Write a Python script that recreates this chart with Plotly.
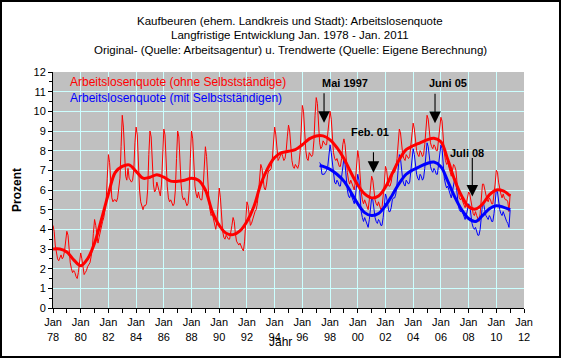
import plotly.graph_objects as go
import pandas as pd

# Arbeitslosenquote (ohne Selbstständige), monthly Jan 1978 - Jan 2011
quote_ohne = [
    4.2, 3.9, 3.2, 2.7, 2.5, 2.4, 2.6, 2.7, 2.5, 2.6, 2.9, 3.5,   # 1978
    3.9, 3.7, 2.9, 2.3, 2.0, 1.8, 1.9, 1.8, 1.6, 1.5, 1.8, 2.3,   # 1979
    2.8, 2.5, 2.0, 1.7, 1.8, 1.9, 2.1, 2.2, 2.3, 2.6, 3.0, 3.8,   # 1980
    4.5, 4.2, 3.6, 3.3, 3.6, 3.9, 4.2, 4.4, 4.6, 4.9, 5.4, 6.6,   # 1981
    7.8, 7.4, 6.3, 5.6, 5.4, 5.5, 5.5, 5.4, 5.6, 6.0, 6.6, 8.2,   # 1982
    9.8, 9.2, 7.6, 6.7, 6.5, 7.1, 6.6, 6.5, 6.4, 6.5, 7.0, 8.4,   # 1983
    9.2, 8.8, 7.2, 6.0, 5.4, 5.1, 5.0, 5.2, 5.2, 5.3, 6.0, 7.8,   # 1984
    9.0, 8.7, 7.4, 6.3, 5.9, 6.0, 6.4, 6.1, 5.8, 5.7, 6.3, 7.9,   # 1985
    9.1, 8.8, 7.2, 6.2, 5.6, 5.4, 5.5, 5.3, 5.2, 5.3, 6.0, 7.6,   # 1986
    9.0, 8.7, 7.3, 6.3, 5.7, 5.5, 5.6, 5.4, 5.2, 5.3, 6.0, 7.6,   # 1987
    9.0, 8.6, 7.2, 6.2, 5.8, 5.6, 5.9, 5.6, 5.5, 5.5, 6.1, 7.3,   # 1988
    8.2, 7.7, 6.4, 5.6, 5.0, 4.7, 4.8, 4.5, 4.2, 4.0, 4.4, 5.4,   # 1989
    6.1, 5.6, 4.6, 3.9, 3.6, 3.5, 3.7, 3.6, 3.5, 3.5, 3.8, 4.2,   # 1990
    4.6, 4.4, 3.8, 3.4, 3.3, 3.2, 3.3, 3.1, 3.0, 2.9, 3.4, 4.4,   # 1991
    5.4, 5.2, 4.6, 4.2, 4.3, 4.5, 4.8, 4.9, 5.0, 5.3, 5.9, 6.6,   # 1992
    7.3, 7.1, 6.5, 6.1, 6.0, 6.3, 6.8, 7.0, 7.0, 7.1, 7.6, 8.4,   # 1993
    9.2, 8.8, 8.0, 7.5, 7.6, 7.8, 7.9, 7.7, 7.5, 7.6, 8.0, 8.7,   # 1994
    9.3, 9.0, 8.2, 7.5, 7.2, 7.1, 7.3, 7.2, 7.1, 7.3, 7.9, 9.0,   # 1995
    10.3, 10.0, 9.0, 8.0, 7.6, 7.5, 7.9, 7.8, 7.7, 7.8, 8.5, 9.8, # 1996
    10.7, 10.4, 9.4, 8.4, 8.1, 8.2, 8.5, 8.4, 8.3, 8.3, 8.9, 9.6, # 1997
    10.0, 9.6, 8.6, 7.9, 7.6, 7.5, 7.6, 7.4, 7.2, 7.2, 7.6, 8.3,  # 1998
    8.6, 8.3, 7.5, 6.9, 6.5, 6.3, 6.5, 6.3, 6.1, 6.0, 6.5, 7.3,   # 1999
    8.0, 7.6, 6.6, 5.9, 5.5, 5.3, 5.5, 5.3, 5.1, 5.0, 5.5, 6.2,   # 2000
    6.7, 6.5, 6.0, 5.5, 5.3, 5.2, 5.4, 5.2, 5.0, 5.1, 5.6, 6.3,   # 2001
    7.2, 7.0, 6.5, 6.2, 6.2, 6.4, 6.8, 6.9, 6.9, 7.1, 7.6, 8.4,   # 2002
    9.1, 8.9, 8.3, 7.8, 7.6, 7.5, 7.8, 7.7, 7.6, 7.7, 8.2, 8.8,   # 2003
    9.4, 9.1, 8.5, 8.0, 7.8, 7.7, 8.0, 7.9, 7.7, 7.8, 8.3, 9.0,   # 2004
    9.8, 9.6, 9.0, 8.4, 8.2, 8.1, 8.3, 8.2, 8.0, 8.0, 8.6, 9.3,   # 2005
    9.7, 9.5, 8.6, 7.9, 7.5, 7.3, 7.4, 7.1, 6.8, 6.7, 7.0, 7.3,   # 2006
    7.2, 7.0, 6.4, 5.9, 5.6, 5.5, 5.6, 5.4, 5.2, 5.1, 5.3, 5.6,   # 2007
    5.9, 5.8, 5.4, 5.0, 4.8, 4.7, 4.9, 4.7, 4.5, 4.4, 4.8, 5.4,   # 2008
    6.3, 6.3, 6.0, 5.7, 5.5, 5.4, 5.6, 5.5, 5.3, 5.3, 5.7, 6.3,   # 2009
    7.0, 6.9, 6.4, 6.0, 5.8, 5.6, 5.8, 5.6, 5.5, 5.5, 5.4, 4.9,   # 2010
    5.8,                                                          # 2011
]

# Arbeitslosenquote (mit Selbstständigen), monthly Apr 1997 - Jan 2011
quote_mit = [
    7.4, 7.3, 6.8, 6.8, 6.8, 6.9, 7.0, 7.2, 7.8,                  # 1997 (Apr-Dec)
    8.3, 7.9, 7.3, 6.7, 6.4, 6.3, 6.5, 6.4, 6.2, 6.2, 6.6, 7.2,   # 1998
    7.6, 7.3, 6.6, 6.0, 5.7, 5.6, 5.8, 5.6, 5.4, 5.3, 5.7, 6.3,   # 1999
    6.8, 6.5, 5.6, 4.9, 4.6, 4.4, 4.6, 4.4, 4.2, 4.1, 4.5, 5.1,   # 2000
    5.6, 5.5, 5.0, 4.6, 4.4, 4.3, 4.5, 4.4, 4.2, 4.2, 4.6, 5.2,   # 2001
    5.8, 5.6, 5.2, 4.9, 4.9, 5.1, 5.5, 5.6, 5.6, 5.8, 6.3, 7.0,   # 2002
    7.8, 7.6, 7.0, 6.5, 6.3, 6.2, 6.5, 6.4, 6.3, 6.4, 6.9, 7.5,   # 2003
    8.1, 7.8, 7.2, 6.8, 6.6, 6.5, 6.8, 6.7, 6.5, 6.6, 7.1, 7.7,   # 2004
    8.4, 8.2, 7.6, 7.2, 7.0, 6.9, 7.1, 7.0, 6.8, 6.8, 7.3, 7.9,   # 2005
    8.3, 8.1, 7.3, 6.6, 6.3, 6.1, 6.2, 6.0, 5.7, 5.6, 5.9, 6.2,   # 2006
    6.6, 6.4, 5.8, 5.3, 5.0, 4.9, 5.0, 4.8, 4.6, 4.5, 4.7, 5.0,   # 2007
    5.3, 5.2, 4.7, 4.3, 4.1, 4.0, 4.1, 3.9, 3.7, 3.7, 4.0, 4.6,   # 2008
    5.3, 5.3, 5.0, 4.7, 4.6, 4.5, 4.7, 4.6, 4.4, 4.4, 4.8, 5.4,   # 2009
    6.0, 5.9, 5.4, 5.0, 4.8, 4.7, 4.9, 4.7, 4.5, 4.4, 4.3, 4.1,   # 2010
    5.0,                                                          # 2011
]

# Trend values (half-yearly: Jan / Jul)
trend_ohne = [
    3.0, 3.0, 2.85, 2.45, 2.15, 2.5, 3.3, 4.5, 5.8, 6.9,          # 1978-1982.5
    7.2, 7.28, 6.95, 6.6, 6.65, 6.78, 6.65, 6.45, 6.44, 6.5,      # 1983-1987.5
    6.6, 6.5, 6.0, 4.9, 4.2, 3.8, 3.73, 3.92, 4.4, 5.15,          # 1988-1992.5
    6.3, 7.1, 7.65, 7.9, 7.97, 8.05, 8.3, 8.6, 8.75, 8.75,        # 1993-1997.5
    8.55, 8.15, 7.6, 6.9, 6.25, 5.8, 5.6, 5.7, 6.15, 6.85,        # 1998-2002.5
    7.55, 8.05, 8.25, 8.4, 8.55, 8.63, 8.45, 7.55, 6.5, 5.7,      # 2003-2007.5
    5.15, 5.03, 5.28, 5.75, 6.0, 5.95, 5.7,                       # 2008-2011
]
trend_mit = [
    7.25,                                                         # Apr 1997
    7.2, 7.05, 6.8, 6.45, 5.9, 5.3, 4.85, 4.7, 4.8, 5.2,          # 1997.5-2002.0
    5.75, 6.35, 6.8, 7.03, 7.2, 7.35, 7.42, 7.18, 6.45, 5.65,     # 2002.5-2007.0
    5.0, 4.55, 4.4, 4.7, 5.05, 5.2, 5.13, 5.0,                    # 2007.5-2011
]

tick_years = list(range(1978, 2013, 2))
tick_labels = ["Jan<br>%02d" % (y % 100) for y in tick_years]

title_lines = [
    "Kaufbeuren (ehem. Landkreis und Stadt): Arbeitslosenquote",
    "Langfristige Entwicklung Jan. 1978 - Jan. 2011",
    "Original- (Quelle: Arbeitsagentur) u. Trendwerte (Quelle: Eigene Berechnung)",
]
name_ohne = "Arbeitslosenquote (ohne Selbstständige)"
name_mit = "Arbeitslosenquote (mit Selbstständigen)"

months_ohne = pd.date_range("1978-01-01", periods=len(quote_ohne), freq="MS")
months_mit = pd.date_range("1997-04-01", periods=len(quote_mit), freq="MS")
trend_ohne_x = pd.date_range("1978-01-01", periods=len(trend_ohne), freq="6MS")
trend_mit_x = [pd.Timestamp("1997-04-01")] + list(
    pd.date_range("1997-07-01", periods=len(trend_mit) - 1, freq="6MS"))

RED = "#FF0000"
BLUE = "#0000FF"
FONT = "Arial, Liberation Sans, sans-serif"

fig = go.Figure()
fig.add_trace(go.Scatter(x=months_ohne, y=quote_ohne, mode="lines",
                         line=dict(color=RED, width=1), name=name_ohne))
fig.add_trace(go.Scatter(x=months_mit, y=quote_mit, mode="lines",
                         line=dict(color=BLUE, width=1), name=name_mit))
fig.add_trace(go.Scatter(x=trend_ohne_x, y=trend_ohne, mode="lines",
                         line=dict(color=RED, width=3, shape="spline"),
                         name="Trend ohne"))
fig.add_trace(go.Scatter(x=trend_mit_x, y=trend_mit, mode="lines",
                         line=dict(color=BLUE, width=3, shape="spline"),
                         name="Trend mit"))

W, H = 561, 358
ml, mr, mt, mb = 53, 37, 72, 50
pw, ph = W - ml - mr, H - mt - mb


def px(xp):
    return (xp - ml) / pw


def py(yp):
    return (H - mb - yp) / ph


annotations = []
for i, line in enumerate(title_lines):
    annotations.append(dict(text=line, xref="paper", yref="paper",
                            x=px(290), y=py(20.5 + 14.8 * i), showarrow=False,
                            xanchor="center", yanchor="middle",
                            font=dict(size=11.5, color="black", family=FONT)))
annotations.append(dict(text=name_ohne, xref="paper", yref="paper",
                        x=px(68), y=py(82), showarrow=False, xanchor="left",
                        yanchor="middle", font=dict(size=12, color=RED, family=FONT)))
annotations.append(dict(text=name_mit, xref="paper", yref="paper",
                        x=px(68), y=py(98), showarrow=False, xanchor="left",
                        yanchor="middle", font=dict(size=12, color=BLUE, family=FONT)))
annotations.append(dict(text="<b>Prozent</b>", xref="paper", yref="paper",
                        x=px(17), y=py(190), showarrow=False, textangle=-90,
                        xanchor="center", yanchor="middle",
                        font=dict(size=12, color="black", family=FONT)))
annotations.append(dict(text="Jahr", xref="paper", yref="paper",
                        x=px(280), y=py(342), showarrow=False,
                        xanchor="center", yanchor="middle",
                        font=dict(size=12, color="black", family=FONT)))

events = [
    ("Mai 1997", "1999-01-30", 11.44, "1997-07-26", 9.42, -31),
    ("Feb. 01", "2000-11-20", 8.95, "2001-02-18", 6.88, -22),
    ("Juni 05", "2006-07-08", 11.44, "2005-07-30", 9.40, -31),
    ("Juli 08", "2007-11-20", 7.88, "2008-04-08", 5.67, -40),
]
for label, tx, ty, ax_, ay_, alen in events:
    annotations.append(dict(text="<b>%s</b>" % label, x=tx, y=ty, xref="x", yref="y",
                            showarrow=False, xanchor="center", yanchor="middle",
                            font=dict(size=11, color="black", family=FONT)))
    annotations.append(dict(text="", x=ax_, y=ay_, xref="x", yref="y",
                            ax=0, ay=alen, showarrow=True, arrowhead=2,
                            arrowsize=2.1, arrowwidth=1.1, arrowcolor="black"))

tick_font = dict(size=11, color="black", family=FONT)
yaxis_common = dict(range=[0, 12], dtick=1, tick0=0, ticks="outside", ticklen=4,
                    tickcolor="black", tickwidth=1, showline=True, linecolor="black",
                    linewidth=1, zeroline=False, tickfont=tick_font,
                    minor=dict(dtick=0.5, tick0=0, ticks="outside", ticklen=3,
                               tickcolor="black", showgrid=False))

fig.update_layout(
    width=W, height=H,
    margin=dict(l=ml, r=mr, t=mt, b=mb, pad=0),
    paper_bgcolor="white", plot_bgcolor="#C0C0C0",
    showlegend=False,
    font=dict(family=FONT, color="black"),
    xaxis=dict(type="date", range=["1978-01-01", "2012-01-01"],
               tickvals=[pd.Timestamp(year=y, month=1, day=1) for y in tick_years],
               ticktext=tick_labels, ticks="outside", ticklen=4,
               tickcolor="black", showline=True, linecolor="black", linewidth=1,
               showgrid=True, gridcolor="#CCFFFF", gridwidth=1, tickfont=tick_font,
               minor=dict(dtick="M12", tick0="1978-01-01", ticks="outside",
                          ticklen=4, tickcolor="black", showgrid=False)),
    yaxis=dict(**yaxis_common, showgrid=True, gridcolor="#CCFFFF", gridwidth=1),
    yaxis2=dict(**yaxis_common, overlaying="y", side="right", showgrid=False),
    annotations=annotations,
    shapes=[dict(type="rect", xref="paper", yref="paper",
                 x0=px(1), x1=px(W - 1), y0=py(H - 1), y1=py(1),
                 line=dict(color="black", width=2), layer="above")],
)

fig.write_html("out.html",
               config={"displayModeBar": False, "staticPlot": True},
               post_script="document.body.style.margin='0';"
                           "document.body.style.overflow='hidden';")
